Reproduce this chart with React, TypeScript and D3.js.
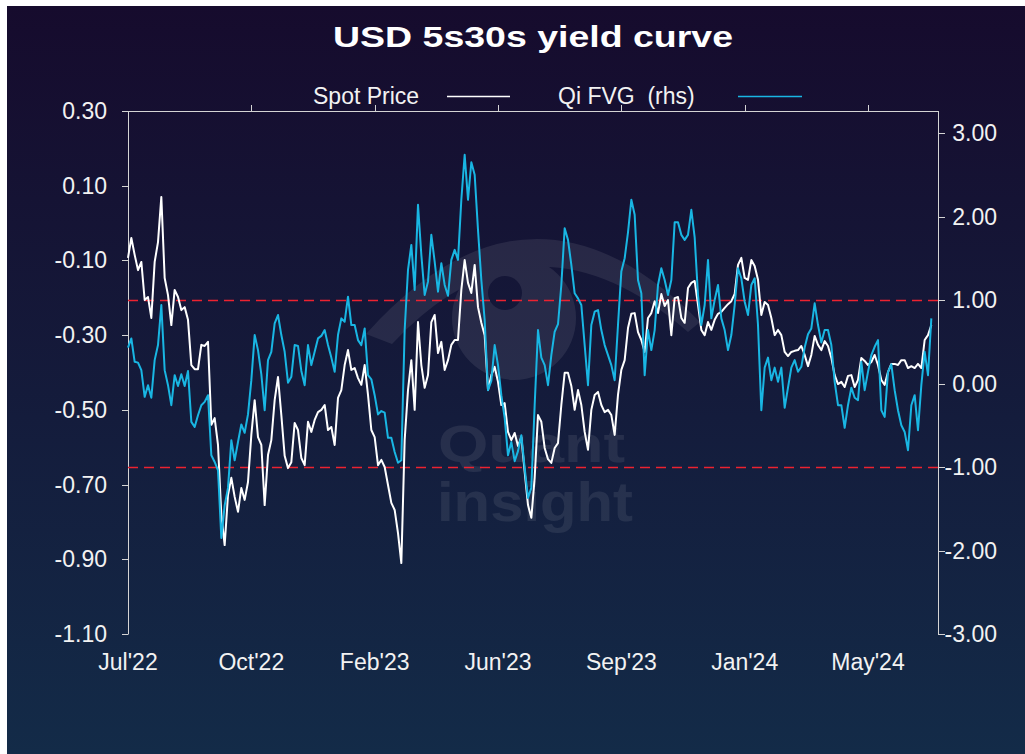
import React from "react";
import * as d3 from "d3";

// USD 5s30s spot (lhs) and Qi fair value gap (rhs), roughly every 2 business days
const spotPrice = [
  -0.093, -0.04, -0.085, -0.126, -0.104, -0.206, -0.198, -0.254, -0.104, -0.051,
  0.07, -0.147, -0.193, -0.273, -0.179, -0.198, -0.233, -0.225, -0.259, -0.38,
  -0.391, -0.391, -0.326, -0.329, -0.318, -0.54, -0.522, -0.594, -0.781, -0.862,
  -0.728, -0.682, -0.733, -0.773, -0.709, -0.741, -0.693, -0.567, -0.474, -0.573,
  -0.594, -0.755, -0.621, -0.581, -0.474, -0.412, -0.514, -0.623, -0.656, -0.64,
  -0.535, -0.554, -0.629, -0.648, -0.532, -0.559, -0.527, -0.506, -0.5, -0.487,
  -0.554,
  -0.546, -0.594, -0.468, -0.447, -0.38, -0.34, -0.393, -0.388, -0.415, -0.433,
  -0.38, -0.46, -0.554, -0.573, -0.648, -0.634, -0.653, -0.701, -0.749, -0.768,
  -0.83, -0.91, -0.581, -0.447, -0.367, -0.5, -0.265, -0.38, -0.441, -0.407,
  -0.265, -0.246, -0.348, -0.318, -0.393, -0.367, -0.326, -0.313, -0.313, -0.179,
  -0.099, -0.16, -0.187, -0.112, -0.225, -0.267, -0.3, -0.447, -0.407, -0.385,
  -0.425, -0.487, -0.482, -0.559, -0.581, -0.562, -0.597, -0.573, -0.666, -0.755,
  -0.789, -0.682, -0.514, -0.532, -0.602, -0.632, -0.642, -0.602, -0.589, -0.487,
  -0.401, -0.401, -0.436, -0.5, -0.447, -0.487, -0.559, -0.607, -0.5, -0.46,
  -0.452, -0.487, -0.506, -0.5, -0.514, -0.567, -0.46, -0.393, -0.367, -0.281,
  -0.243, -0.241, -0.292, -0.313, -0.345, -0.254, -0.241, -0.209, -0.241, -0.19,
  -0.222, -0.206, -0.3, -0.201, -0.198, -0.254, -0.267, -0.174, -0.16, -0.155,
  -0.219, -0.286, -0.3, -0.265, -0.286, -0.259, -0.243, -0.238, -0.227, -0.217,
  -0.209, -0.19, -0.112, -0.093, -0.147, -0.152, -0.099, -0.115, -0.152, -0.246,
  -0.211, -0.219, -0.254, -0.3, -0.286, -0.3, -0.345, -0.356, -0.345, -0.342,
  -0.34, -0.329, -0.353, -0.383, -0.353, -0.302, -0.326, -0.34, -0.316, -0.329,
  -0.361, -0.407, -0.431, -0.425, -0.439, -0.409, -0.407, -0.439, -0.42, -0.361,
  -0.369, -0.38, -0.372, -0.353, -0.38, -0.42, -0.433, -0.399, -0.377, -0.377,
  -0.38, -0.367, -0.367, -0.388, -0.383, -0.388, -0.377, -0.388, -0.313, -0.3,
  -0.273,
];

const qiFvg = [
  0.43, 0.54, 0.26, 0.25, 0.16, -0.16, -0.02, -0.17, 0.28, 0.46,
  0.94, 0.16, -0.02, -0.26, 0.1, -0.03, 0.11, -0.03, 0.15, -0.46,
  -0.52, -0.38, -0.26, -0.22, -0.14, -0.86, -0.94, -1.04, -1.85, -1.46,
  -1.25, -0.68, -0.92, -0.7, -0.49, -0.59, -0.37, 0.04, 0.58, 0.4,
  0.11, -0.32, 0.28, 0.38, 0.72, 0.82, 0.58, 0.38, 0.01, 0.08,
  0.46, 0.45, 0.15, -0.02, 0.46, 0.22, 0.38, 0.54, 0.57, 0.64,
  0.46,
  0.31, 0.14, 0.58, 0.78, 0.74, 1.04, 0.7, 0.7, 0.52, 0.46,
  0.66, 0.1, 0.05, -0.14, -0.37, -0.33, -0.35, -0.65, -0.65, -0.82,
  -0.95, -0.92, 0.64, 1.36, 1.66, 1.12, 2.14, 1.54, 1.06, 1.22,
  1.78, 1.46, 1.1, 1.44, 1.18, 1.05, 1.48, 1.6, 1.48, 2.2,
  2.74, 2.2, 2.65, 2.5, 1.84, 1.24, 0.76, -0.08, 0.03, 0.46,
  0.22, -0.14, -0.41, -0.86, -0.7, -0.93, -0.81, -0.62, -1.01, -1.37,
  -1.25, -0.26, 0.64, 0.31, 0.22, -0.02, 0.34, 0.62, 0.71, 1.18,
  1.86, 1.72, 1.42, 1.08, 1.02, 0.94, 0.46, -0.02, 0.7, 0.86,
  0.88, 0.64, 0.46, 0.34, 0.22, 0.04, 0.7, 1.34, 1.5, 1.81,
  2.2, 2.02, 1.24, 1.08, 0.1, 0.64, 0.4, 0.64, 1.18, 1.38,
  1.24, 1.06, 1.24, 1.93, 1.93, 1.78, 1.72, 1.78, 2.08, 1.75,
  1.06, 0.7, 0.94, 1.48, 0.78, 1.0, 1.18, 0.78, 0.64, 0.4,
  0.58, 0.94, 1.38, 1.26, 0.98, 0.82, 1.18, 1.26, 0.7, -0.32,
  0.19, 0.31, 0.04, 0.19, 0.02, 0.19, -0.29, -0.05, 0.19, 0.28,
  0.14, 0.2, 0.43, 0.59, 0.66, 0.96, 0.7, 0.49, 0.64, 0.64,
  0.46, 0.02, -0.26, -0.26, -0.53, -0.26, -0.05, -0.17, -0.2, 0.26,
  -0.08, 0.14, 0.34, 0.44, 0.52, -0.32, -0.4, 0.14, 0.23, -0.08,
  -0.32, -0.5, -0.58, -0.8, -0.26, -0.14, -0.56, -0.02, 0.38, 0.1,
  0.78,
];

const xTickLabels = ["Jul'22", "Oct'22", "Feb'23", "Jun'23", "Sep'23", "Jan'24", "May'24"];
const tickEvery = 37; // category ticks every 37 points
const leftTicks = [0.3, 0.1, -0.1, -0.3, -0.5, -0.7, -0.9, -1.1];
const rightTicks = [3, 2, 1, 0, -1, -2, -3];
const fvgBands = [1, -1];

const FONT = "'Liberation Sans', Arial, Helvetica, sans-serif";
const WHITE = "#ffffff";
const CYAN = "#19b6e3";

// excel style: plain hyphen for negatives
const fmt = (v: number) => d3.format(".2f")(v).replace("\u2212", "-");

export default function App() {
  const plot = { left: 128, right: 938, top: 111, bottom: 634 };

  const x = d3.scaleLinear().domain([0, 243]).range([plot.left, plot.right]);
  const yL = d3.scaleLinear().domain([-1.1, 0.3]).range([plot.bottom, plot.top]);
  const yR = d3.scaleLinear().domain([-3, 3]).range([plot.bottom, 133]);

  const spotLine = d3
    .line<number>()
    .x((_, i) => x(i))
    .y((d) => yL(d));
  const fvgLine = d3
    .line<number>()
    .x((_, i) => x(i))
    .y((d) => yR(d));

  return (
    <svg
      width={1025}
      height={754}
      style={{ position: "absolute", left: 0, top: 0, display: "block" }}
      fontFamily={FONT}
    >
      <defs>
        <linearGradient id="bg" x1="0" y1="0" x2="0" y2="1">
          <stop offset="0%" stopColor="#160b2d" />
          <stop offset="55%" stopColor="#141c3c" />
          <stop offset="100%" stopColor="#132b48" />
        </linearGradient>
      </defs>
      <rect x={0} y={0} width={1025} height={754} fill="#ffffff" />
      <rect x={7} y={6} width={1018} height={748} fill="url(#bg)" />

      {/* watermark */}
      <g fill="#ffffff" opacity={0.08}>
        <path d="M366,334 Q530,150 700,322 L688,332 Q530,196 392,344 Z" />
        <path
          fillRule="evenodd"
          d="M452,318 a62,62 0 1,0 124,0 a62,62 0 1,0 -124,0 Z M488,293 a17,17 0 1,0 34,0 a17,17 0 1,0 -34,0 Z"
        />
        <text fontWeight={700}>
          <tspan x={438} y={462} fontSize={52} textLength={187} lengthAdjust="spacingAndGlyphs">
            Quant
          </tspan>
          <tspan x={437} y={521} fontSize={55} textLength={196} lengthAdjust="spacingAndGlyphs">
            insight
          </tspan>
        </text>
      </g>

      {/* title */}
      <text
        x={533}
        y={47}
        textAnchor="middle"
        fill={WHITE}
        fontSize={30}
        fontWeight={700}
        textLength={400}
        lengthAdjust="spacingAndGlyphs"
      >
        USD 5s30s yield curve
      </text>

      {/* legend */}
      <g fontSize={23} fill="#f2f2f2">
        <text x={313} y={104}>Spot Price</text>
        <line x1={447} x2={510} y1={96.5} y2={96.5} stroke={WHITE} strokeWidth={1.5} />
        <text x={558} y={104} style={{ whiteSpace: "pre" }}>
          {"Qi FVG  (rhs)"}
        </text>
        <line x1={738} x2={802} y1={96.5} y2={96.5} stroke={CYAN} strokeWidth={1.5} />
      </g>

      {/* axes frame */}
      <g stroke="#d4d4d4" strokeWidth={1} fill="none">
        <line x1={plot.left + 0.5} x2={plot.right + 0.5} y1={plot.top + 0.5} y2={plot.top + 0.5} />
        <line x1={plot.left + 0.5} x2={plot.left + 0.5} y1={plot.top} y2={plot.bottom + 0.5} />
        <line x1={plot.right + 0.5} x2={plot.right + 0.5} y1={plot.top} y2={plot.bottom + 0.5} />
        {xTickLabels.slice(1).map((_, i) => {
          const px = Math.round(x((i + 1) * tickEvery)) + 0.5;
          return <line key={i} x1={px} x2={px} y1={plot.top - 6} y2={plot.top} />;
        })}
        {leftTicks.map((t) => {
          const py = Math.round(yL(t)) + 0.5;
          return <line key={t} x1={plot.left - 6} x2={plot.left} y1={py} y2={py} />;
        })}
        {rightTicks.map((t) => {
          const py = Math.round(yR(t)) + 0.5;
          return <line key={t} x1={plot.right} x2={plot.right + 7} y1={py} y2={py} />;
        })}
      </g>

      {/* tick labels */}
      <g fontSize={23} fill="#f2f2f2">
        {leftTicks.map((t) => (
          <text key={t} x={107} y={yL(t)} dy="0.35em" textAnchor="end">
            {fmt(t)}
          </text>
        ))}
        {rightTicks.map((t) => (
          <text key={t} x={997} y={yR(t)} dy="0.35em" textAnchor="end">
            {fmt(t)}
          </text>
        ))}
        {xTickLabels.map((lab, i) => (
          <text key={lab} x={x(i * tickEvery)} y={670} textAnchor="middle">
            {lab}
          </text>
        ))}
      </g>

      {/* +/-1 FVG bands */}
      {fvgBands.map((b) => (
        <line
          key={b}
          x1={plot.left}
          x2={plot.right}
          y1={Math.round(yR(b)) + 0.5}
          y2={Math.round(yR(b)) + 0.5}
          stroke="#ec2230"
          strokeWidth={1.3}
          strokeDasharray="10,6"
        />
      ))}

      {/* series */}
      <path d={spotLine(spotPrice) ?? ""} fill="none" stroke={WHITE} strokeWidth={2} strokeLinejoin="round" />
      <path d={fvgLine(qiFvg) ?? ""} fill="none" stroke={CYAN} strokeWidth={2} strokeLinejoin="round" />
    </svg>
  );
}
